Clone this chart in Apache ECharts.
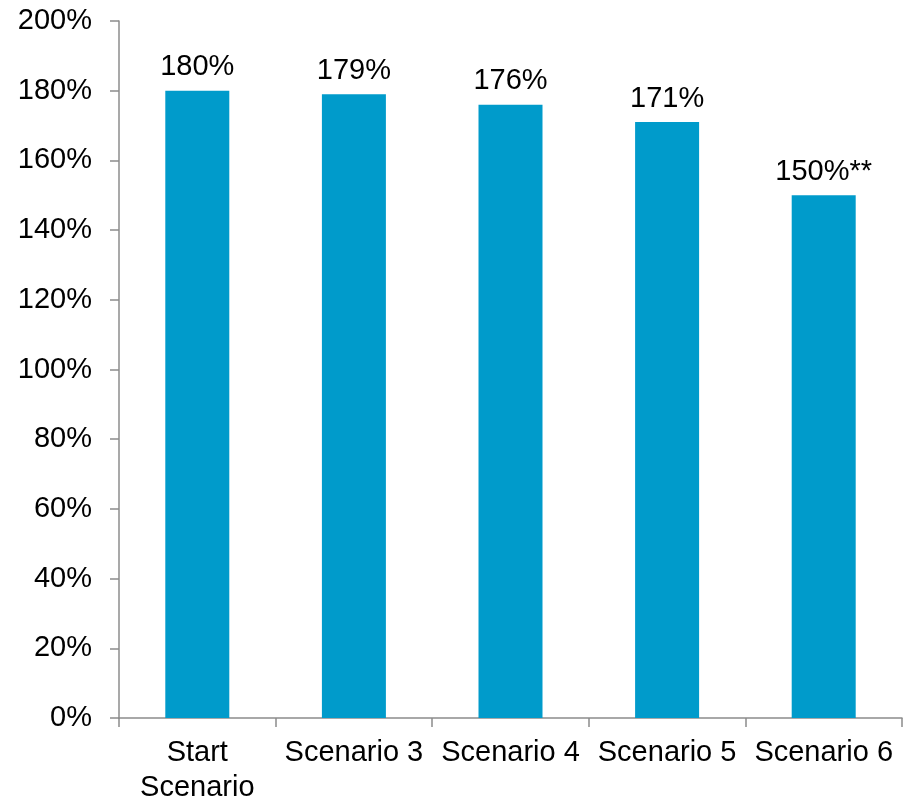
<!DOCTYPE html>
<html>
<head>
<meta charset="utf-8">
<script src="https://cdn.jsdelivr.net/npm/echarts@6/dist/echarts.min.js"></script>
<style>
  html, body { margin: 0; padding: 0; background: #fff; }
  #chart { width: 907px; height: 798px; }
</style>
</head>
<body>
<div id="chart"></div>
<script>
// Scenario ratios (%)
const categories = ['Start\nScenario', 'Scenario 3', 'Scenario 4', 'Scenario 5', 'Scenario 6'];
const values = [180, 179, 176, 171, 150];
const labelSuffix = ['', '', '', '', '**'];
const yTicks = { min: 0, max: 200, step: 20 };

const FONT = 'Liberation Sans, Arial, sans-serif';
const AXIS_COLOR = '#8c8c8c';

const chart = echarts.init(document.getElementById('chart'), null, { renderer: 'canvas' });
chart.setOption({
  animation: false,
  grid: { left: 119, right: 5, top: 21, bottom: 80, containLabel: false, outerBoundsMode: 'none' },
  xAxis: {
    type: 'category',
    data: categories,
    axisLine: { show: true, lineStyle: { color: AXIS_COLOR, width: 1.5 } },
    axisTick: { show: true, length: 9, alignWithLabel: false, lineStyle: { color: AXIS_COLOR, width: 1.5 } },
    axisLabel: { color: '#000', fontFamily: FONT, fontSize: 29, margin: 17, lineHeight: 35, interval: 0 }
  },
  yAxis: {
    type: 'value',
    min: yTicks.min,
    max: yTicks.max,
    interval: yTicks.step,
    splitLine: { show: false },
    axisLine: { show: true, lineStyle: { color: AXIS_COLOR, width: 1.5 } },
    axisTick: { show: true, length: 9, lineStyle: { color: AXIS_COLOR, width: 1.5 } },
    axisLabel: { color: '#000', fontFamily: FONT, fontSize: 29, margin: 27, formatter: '{value}%' }
  },
  series: [{
    type: 'bar',
    data: values,
    barWidth: 64,
    itemStyle: { color: '#009BCB' },
    label: {
      show: true,
      position: 'top',
      distance: 9,
      color: '#000',
      fontFamily: FONT,
      fontSize: 29,
      formatter: p => p.value + '%' + labelSuffix[p.dataIndex]
    }
  }]
});
</script>
</body>
</html>
